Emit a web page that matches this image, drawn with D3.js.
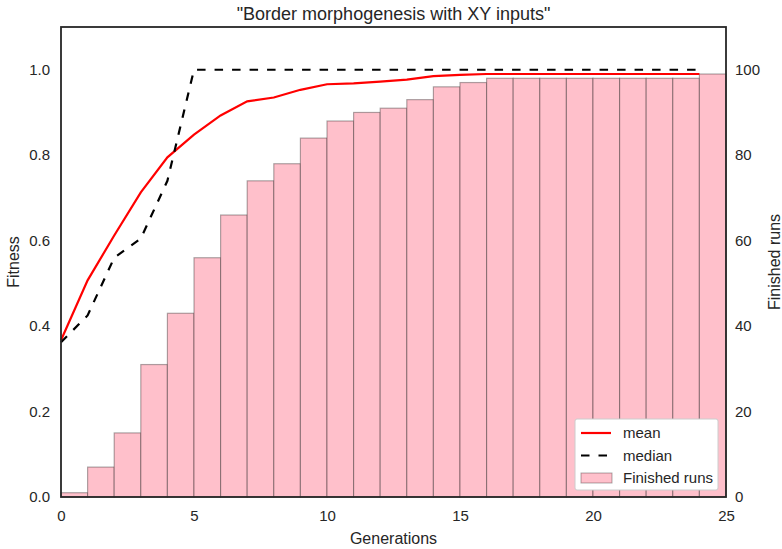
<!DOCTYPE html>
<html>
<head>
<meta charset="utf-8">
<script src="https://cdn.jsdelivr.net/npm/d3@7"></script>
<style>
  body { margin: 0; background: #fff; }
  text { font-family: "Liberation Sans", Arial, sans-serif; fill: #262626; }
</style>
</head>
<body>
<div id="chart"></div>
<script>
// generations, one per run step
const generations = [0, 1, 2, 3, 4, 5, 6, 7, 8, 9, 10, 11, 12, 13, 14, 15, 16, 17, 18, 19, 20, 21, 22, 23, 24];
const meanFitness = [0.367, 0.507, 0.612, 0.713, 0.795, 0.848, 0.893, 0.926, 0.935, 0.953, 0.966, 0.968, 0.972, 0.977, 0.985, 0.988, 0.99, 0.99, 0.99, 0.99, 0.99, 0.99, 0.99, 0.99, 0.99];
const medianFitness = [0.362, 0.425, 0.56, 0.605, 0.74, 1, 1, 1, 1, 1, 1, 1, 1, 1, 1, 1, 1, 1, 1, 1, 1, 1, 1, 1, 1];
const finishedRuns = [1, 7, 15, 31, 43, 56, 66, 74, 78, 84, 88, 90, 91, 93, 96, 97, 98, 98, 98, 98, 98, 98, 98, 98, 99];
const xTicks = [0, 5, 10, 15, 20, 25];
const fitTicks = [0, 0.2, 0.4, 0.6, 0.8, 1.0];
const runTicks = [0, 20, 40, 60, 80, 100];

const width = 782, height = 549;
const mLeft = 61, mRight = 726, mTop = 27, mBottom = 497;

const svg = d3.select('#chart').append('svg')
    .attr('width', width)
    .attr('height', height);

const x = d3.scaleLinear().domain([0, 25]).range([mLeft, mRight]);
const yFit = d3.scaleLinear().domain([0, 1.1]).range([mBottom, mTop]);
const yRuns = d3.scaleLinear().domain([0, 110]).range([mBottom, mTop]);

// barras de execuções finalizadas
svg.append('g')
    .selectAll('rect')
    .data(generations)
    .enter()
    .append('rect')
    .attr('x', d => x(d))
    .attr('y', (d, i) => yRuns(finishedRuns[i]))
    .attr('width', d => x(d + 1) - x(d))
    .attr('height', (d, i) => yRuns(0) - yRuns(finishedRuns[i]))
    .attr('fill', '#ffc0cb')
    .attr('stroke', 'rgba(0,0,0,0.32)')
    .attr('stroke-width', 1.2);

const line = vals => d3.line()
    .x((d, i) => x(d))
    .y((d, i) => yFit(vals[i]))(generations);

svg.append('path')
    .attr('d', line(meanFitness))
    .attr('fill', 'none')
    .attr('stroke', '#ff0000')
    .attr('stroke-width', 2.2);

svg.append('path')
    .attr('d', line(medianFitness))
    .attr('fill', 'none')
    .attr('stroke', '#000')
    .attr('stroke-width', 2.2)
    .attr('stroke-dasharray', '8.5,9');

// moldura
svg.append('rect')
    .attr('x', mLeft).attr('y', mTop)
    .attr('width', mRight - mLeft).attr('height', mBottom - mTop)
    .attr('fill', 'none')
    .attr('stroke', '#262626')
    .attr('stroke-width', 1.8);

const axisStyle = g => {
    g.select('.domain').remove();
    g.selectAll('.tick line').remove();
    g.selectAll('.tick text')
        .attr('font-size', 15)
        .attr('fill', '#262626')
        .style('font-family', '"Liberation Sans", Arial, sans-serif');
};

svg.append('g')
    .attr('transform', `translate(0,${mBottom})`)
    .call(d3.axisBottom(x).tickValues(xTicks).tickFormat(d3.format('d')).tickSize(0).tickPadding(13))
    .call(axisStyle);

svg.append('g')
    .attr('transform', `translate(${mLeft},0)`)
    .call(d3.axisLeft(yFit).tickValues(fitTicks).tickFormat(d3.format('.1f')).tickSize(0).tickPadding(11))
    .call(axisStyle);

svg.append('g')
    .attr('transform', `translate(${mRight},0)`)
    .call(d3.axisRight(yRuns).tickValues(runTicks).tickFormat(d3.format('d')).tickSize(0).tickPadding(9))
    .call(axisStyle);

// títulos
svg.append('text')
    .attr('x', (mLeft + mRight) / 2).attr('y', 20)
    .attr('text-anchor', 'middle')
    .attr('font-size', 18)
    .text('"Border morphogenesis with XY inputs"');

svg.append('text')
    .attr('x', (mLeft + mRight) / 2).attr('y', 544)
    .attr('text-anchor', 'middle')
    .attr('font-size', 16)
    .text('Generations');

svg.append('text')
    .attr('transform', `translate(19,${(mTop + mBottom) / 2}) rotate(-90)`)
    .attr('text-anchor', 'middle')
    .attr('font-size', 16)
    .text('Fitness');

svg.append('text')
    .attr('transform', `translate(780,${(mTop + mBottom) / 2}) rotate(-90)`)
    .attr('text-anchor', 'middle')
    .attr('font-size', 16)
    .text('Finished runs');

// legenda
const legendItems = ['mean', 'median', 'Finished runs'];
const lg = svg.append('g').attr('transform', 'translate(575,419)');
lg.append('rect')
    .attr('width', 143).attr('height', 71)
    .attr('rx', 2)
    .attr('fill', '#fff')
    .attr('stroke', '#cccccc')
    .attr('stroke-width', 1);

legendItems.forEach((name, i) => {
    const cy = 14 + i * 22.5;
    if (i === 0) {
        lg.append('line').attr('x1', 6).attr('x2', 36).attr('y1', cy).attr('y2', cy)
            .attr('stroke', '#ff0000').attr('stroke-width', 2.2);
    } else if (i === 1) {
        lg.append('line').attr('x1', 6).attr('x2', 36).attr('y1', cy).attr('y2', cy)
            .attr('stroke', '#000').attr('stroke-width', 2.2).attr('stroke-dasharray', '8.5,9');
    } else {
        lg.append('rect').attr('x', 6).attr('y', cy - 5).attr('width', 31).attr('height', 10)
            .attr('fill', '#ffc0cb').attr('stroke', 'rgba(0,0,0,0.32)').attr('stroke-width', 1);
    }
    lg.append('text')
        .attr('x', 48).attr('y', cy + 5)
        .attr('font-size', 15)
        .text(name);
});
</script>
</body>
</html>
